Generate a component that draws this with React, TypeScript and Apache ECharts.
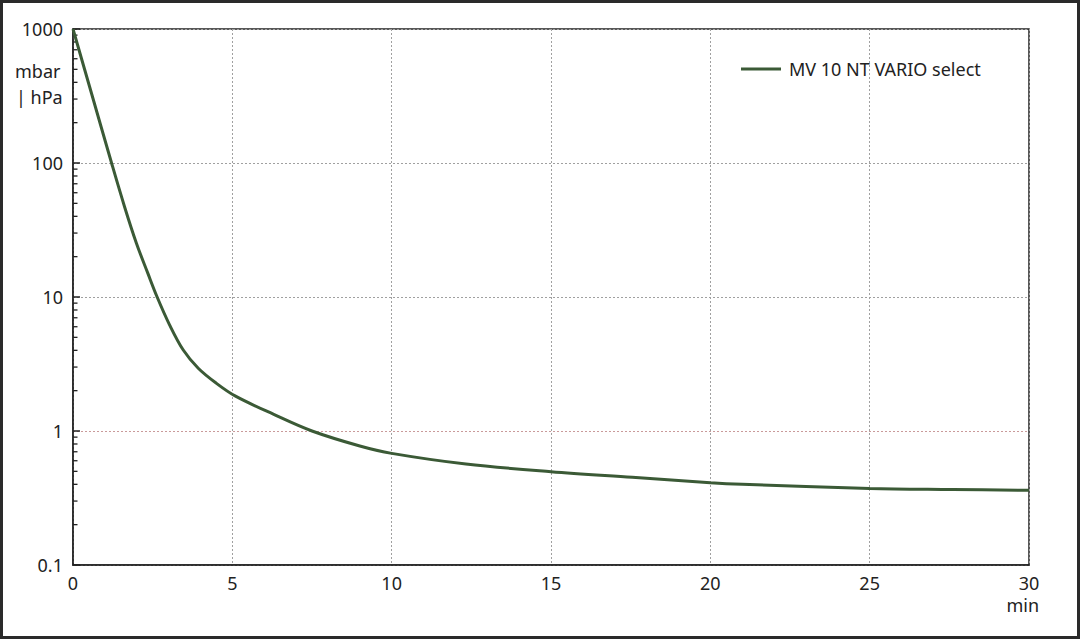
import { useEffect, useRef } from "react";
import * as echarts from "echarts";

// pump-down curve (minutes, mbar)
const times = [0, 0.6, 1.21, 1.62, 1.99, 2.35, 2.64, 3.03, 3.46, 3.93, 4.5, 5.1, 6.3, 7.5, 9, 10, 12.33, 15, 17.55, 20, 21, 25, 27.6, 30];
const pressure = [1000, 319, 100, 47, 25.2, 15.0, 10, 6.2, 4.02, 2.94, 2.27, 1.82, 1.33, 1.0, 0.773, 0.681, 0.567, 0.497, 0.451, 0.411, 0.4, 0.373, 0.366, 0.361];

const seriesName = "MV 10 NT VARIO select";
const minorTickValues = [
  0.2, 0.3, 0.4, 0.5, 0.6, 0.7, 0.8, 0.9,
  2, 3, 4, 5, 6, 7, 8, 9,
  20, 30, 40, 50, 60, 70, 80, 90,
  200, 300, 400, 500, 600, 700, 800, 900,
];

const FONT = "'Noto Sans', sans-serif";
const INK = "#222";

export default function App() {
  const ref = useRef<HTMLDivElement>(null);

  useEffect(() => {
    if (!ref.current) return;
    document.body.style.margin = "0";
    const chart = echarts.init(ref.current, undefined, { renderer: "svg" });

    chart.setOption({
      animation: false,
      backgroundColor: "#fff",
      textStyle: { fontFamily: FONT },
      grid: {
        left: 73,
        top: 29,
        right: 51,
        bottom: 74,
        show: true,
        borderColor: INK,
        borderWidth: 1.5,
      },
      legend: {
        data: [seriesName],
        left: 736,
        top: 55,
        icon: "rect",
        itemWidth: 40,
        itemHeight: 3,
        textStyle: { fontFamily: FONT, fontSize: 18, color: INK, padding: [0, 0, 0, 3] },
      },
      xAxis: {
        type: "value",
        min: 0,
        max: 30,
        interval: 5,
        axisLine: { lineStyle: { color: INK, width: 1.5 } },
        axisTick: { show: false },
        axisLabel: { fontFamily: FONT, fontSize: 18, color: INK, margin: 9 },
        splitLine: { lineStyle: { color: "#a0a0a0", width: 1, type: [2, 2] } },
      },
      yAxis: {
        type: "log",
        logBase: 10,
        min: 0.1,
        max: 1000,
        axisLine: { show: true, lineStyle: { color: INK, width: 1.5 } },
        axisTick: { show: true, inside: true, length: 7, lineStyle: { color: INK, width: 1.5 } },
        axisLabel: {
          fontFamily: FONT,
          fontSize: 18,
          color: INK,
          margin: 10,
          formatter: (v: number) => String(v),
        },
        splitLine: {
          lineStyle: {
            color: ["#a0a0a0", "#c99a9a", "#a0a0a0", "#a0a0a0", "#a0a0a0"],
            width: 1,
            type: [2, 2],
          },
        },
      },
      graphic: [
        { type: "text", left: 15, top: 62, style: { text: "mbar", font: `18px ${FONT}`, fill: INK } },
        { type: "text", left: 16, top: 88, style: { text: "| hPa", font: `18px ${FONT}`, fill: INK } },
        { type: "text", right: 41, top: 596, style: { text: "min", font: `18px ${FONT}`, fill: INK } },
      ],
      series: [
        {
          name: seriesName,
          type: "line",
          data: times.map((t, i) => [t, pressure[i]]),
          showSymbol: false,
          symbol: "none",
          smooth: 0.35,
          lineStyle: { color: "#3b5a36", width: 3 },
          itemStyle: { color: "#3b5a36" },
          z: 5,
        },
        {
          name: "minor ticks",
          type: "custom",
          silent: true,
          clip: false,
          data: minorTickValues.map((v) => [0, v]),
          encode: { x: 0, y: 1 },
          renderItem: (_params: any, api: any) => {
            const p = api.coord([api.value(0), api.value(1)]);
            return {
              type: "line",
              shape: { x1: p[0], y1: p[1], x2: p[0] + 4.5, y2: p[1] },
              style: { stroke: INK, lineWidth: 1.3 },
            };
          },
          z: 4,
        },
      ],
    });

    return () => chart.dispose();
  }, []);

  return (
    <div style={{ position: "fixed", left: 0, top: 0, width: 1080, height: 639 }}>
      <div ref={ref} style={{ position: "absolute", left: 0, top: 0, width: 1080, height: 639 }} />
      <div
        style={{
          position: "absolute",
          left: 0,
          top: 0,
          width: 1080,
          height: 639,
          boxSizing: "border-box",
          border: "3px solid #2a2a2a",
          pointerEvents: "none",
        }}
      />
    </div>
  );
}
